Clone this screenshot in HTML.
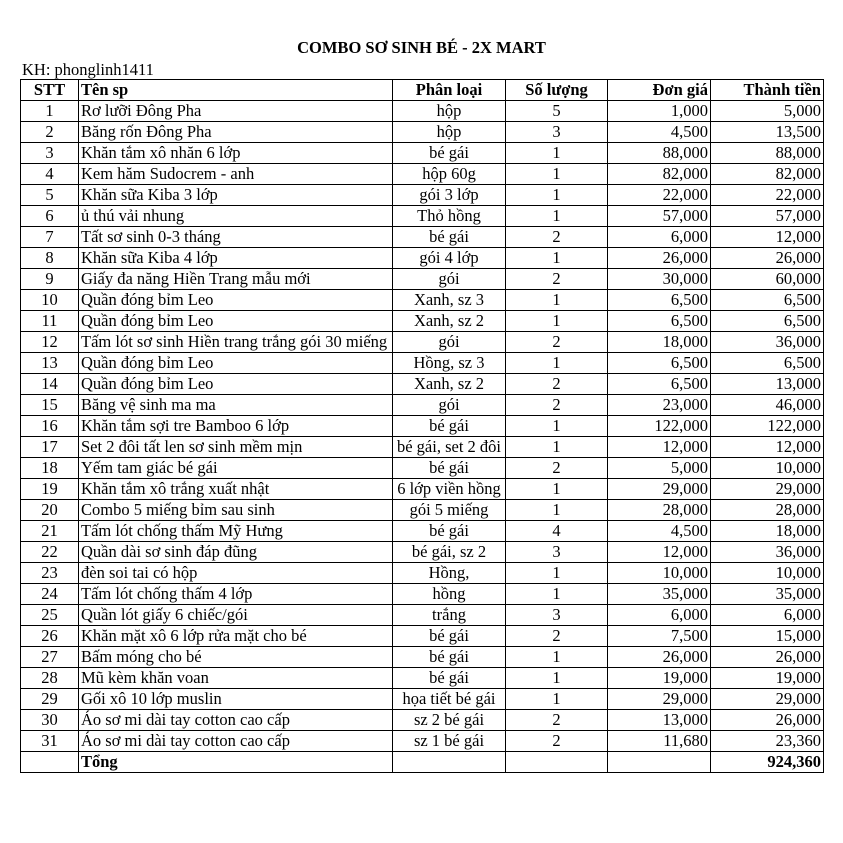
<!DOCTYPE html>
<html><head><meta charset="utf-8"><style>
body{margin:0;background:#fff;width:843px;height:843px;position:relative;font-family:"Liberation Serif",serif;color:#000}
.t{position:absolute;top:38px;left:0;width:843px;text-align:center;font-weight:bold;font-size:16.5px}
.kh{position:absolute;top:60px;left:22px;font-size:16.5px}
table{position:absolute;left:20px;top:79px;border-collapse:collapse;font-size:16.5px}
td{border:1px solid #000;height:20px;padding:0 2px;line-height:20px;white-space:nowrap;overflow:hidden}
tr:first-child td{font-weight:bold}
td:nth-child(1){width:53px;max-width:53px;text-align:center}
td:nth-child(2){width:309px;max-width:309px}
td:nth-child(3){width:108px;max-width:108px;text-align:center}
td:nth-child(4){width:97px;max-width:97px;text-align:center}
td:nth-child(5){width:98px;max-width:98px;text-align:right}
td:nth-child(6){width:108px;max-width:108px;text-align:right}
</style></head><body>
<div class="t">COMBO SƠ SINH BÉ - 2X MART</div>
<div class="kh">KH: phonglinh1411</div>
<table>
<tr><td>STT</td><td>Tên sp</td><td>Phân loại</td><td>Số lượng</td><td>Đơn giá</td><td>Thành tiền</td></tr>
<tr><td>1</td><td>Rơ lưỡi Đông Pha</td><td>hộp</td><td>5</td><td>1,000</td><td>5,000</td></tr>
<tr><td>2</td><td>Băng rốn Đông Pha</td><td>hộp</td><td>3</td><td>4,500</td><td>13,500</td></tr>
<tr><td>3</td><td>Khăn tắm xô nhăn 6 lớp</td><td>bé gái</td><td>1</td><td>88,000</td><td>88,000</td></tr>
<tr><td>4</td><td>Kem hăm Sudocrem - anh</td><td>hộp 60g</td><td>1</td><td>82,000</td><td>82,000</td></tr>
<tr><td>5</td><td>Khăn sữa Kiba 3 lớp</td><td>gói 3 lớp</td><td>1</td><td>22,000</td><td>22,000</td></tr>
<tr><td>6</td><td>ủ thú vải nhung</td><td>Thỏ hồng</td><td>1</td><td>57,000</td><td>57,000</td></tr>
<tr><td>7</td><td>Tất sơ sinh 0-3 tháng</td><td>bé gái</td><td>2</td><td>6,000</td><td>12,000</td></tr>
<tr><td>8</td><td>Khăn sữa Kiba 4 lớp</td><td>gói 4 lớp</td><td>1</td><td>26,000</td><td>26,000</td></tr>
<tr><td>9</td><td>Giấy đa năng Hiền Trang mẫu mới</td><td>gói</td><td>2</td><td>30,000</td><td>60,000</td></tr>
<tr><td>10</td><td>Quần đóng bỉm Leo</td><td>Xanh, sz 3</td><td>1</td><td>6,500</td><td>6,500</td></tr>
<tr><td>11</td><td>Quần đóng bỉm Leo</td><td>Xanh, sz 2</td><td>1</td><td>6,500</td><td>6,500</td></tr>
<tr><td>12</td><td>Tấm lót sơ sinh Hiền trang trắng gói 30 miếng</td><td>gói</td><td>2</td><td>18,000</td><td>36,000</td></tr>
<tr><td>13</td><td>Quần đóng bỉm Leo</td><td>Hồng, sz 3</td><td>1</td><td>6,500</td><td>6,500</td></tr>
<tr><td>14</td><td>Quần đóng bỉm Leo</td><td>Xanh, sz 2</td><td>2</td><td>6,500</td><td>13,000</td></tr>
<tr><td>15</td><td>Băng vệ sinh ma ma</td><td>gói</td><td>2</td><td>23,000</td><td>46,000</td></tr>
<tr><td>16</td><td>Khăn tắm sợi tre Bamboo 6 lớp</td><td>bé gái</td><td>1</td><td>122,000</td><td>122,000</td></tr>
<tr><td>17</td><td>Set 2 đôi tất len sơ sinh mềm mịn</td><td>bé gái, set 2 đôi</td><td>1</td><td>12,000</td><td>12,000</td></tr>
<tr><td>18</td><td>Yếm tam giác bé gái</td><td>bé gái</td><td>2</td><td>5,000</td><td>10,000</td></tr>
<tr><td>19</td><td>Khăn tắm xô trắng xuất nhật</td><td>6 lớp viền hồng</td><td>1</td><td>29,000</td><td>29,000</td></tr>
<tr><td>20</td><td>Combo 5 miếng bỉm sau sinh</td><td>gói 5 miếng</td><td>1</td><td>28,000</td><td>28,000</td></tr>
<tr><td>21</td><td>Tấm lót chống thấm Mỹ Hưng</td><td>bé gái</td><td>4</td><td>4,500</td><td>18,000</td></tr>
<tr><td>22</td><td>Quần dài sơ sinh đáp đũng</td><td>bé gái, sz 2</td><td>3</td><td>12,000</td><td>36,000</td></tr>
<tr><td>23</td><td>đèn soi tai có hộp</td><td>Hồng,</td><td>1</td><td>10,000</td><td>10,000</td></tr>
<tr><td>24</td><td>Tấm lót chống thấm 4 lớp</td><td>hồng</td><td>1</td><td>35,000</td><td>35,000</td></tr>
<tr><td>25</td><td>Quần lót giấy 6 chiếc/gói</td><td>trắng</td><td>3</td><td>6,000</td><td>6,000</td></tr>
<tr><td>26</td><td>Khăn mặt xô 6 lớp rửa mặt cho bé</td><td>bé gái</td><td>2</td><td>7,500</td><td>15,000</td></tr>
<tr><td>27</td><td>Bấm móng cho bé</td><td>bé gái</td><td>1</td><td>26,000</td><td>26,000</td></tr>
<tr><td>28</td><td>Mũ kèm khăn voan</td><td>bé gái</td><td>1</td><td>19,000</td><td>19,000</td></tr>
<tr><td>29</td><td>Gối xô 10 lớp muslin</td><td>họa tiết bé gái</td><td>1</td><td>29,000</td><td>29,000</td></tr>
<tr><td>30</td><td>Áo sơ mi dài tay cotton cao cấp</td><td>sz 2 bé gái</td><td>2</td><td>13,000</td><td>26,000</td></tr>
<tr><td>31</td><td>Áo sơ mi dài tay cotton cao cấp</td><td>sz 1 bé gái</td><td>2</td><td>11,680</td><td>23,360</td></tr>
<tr><td></td><td style="font-weight:bold">Tổng</td><td></td><td></td><td></td><td style="font-weight:bold">924,360</td></tr>
</table>
</body></html>
